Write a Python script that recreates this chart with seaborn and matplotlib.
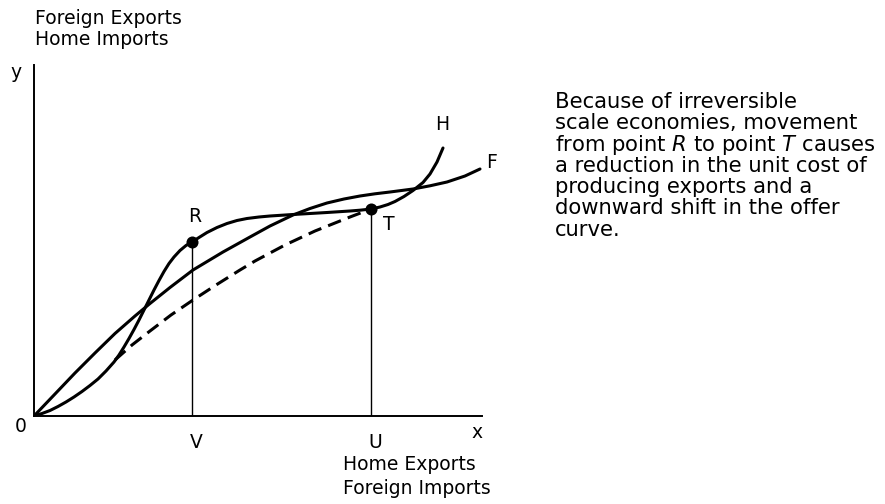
import matplotlib
matplotlib.use("Agg")
import matplotlib.pyplot as plt
import numpy as np
import pandas as pd
import seaborn as sns

# Home offer curve H (S-shaped) (axis units = px from origin)
H_x = [0, 8, 16, 24, 32, 40, 48, 56, 64, 72, 80, 85, 90, 95, 100, 105, 110, 115,
       120, 125, 130, 135, 140, 146, 152, 158, 165, 173, 183, 193, 203, 213, 225,
       236, 259, 276, 293, 316, 326, 337, 346, 354, 361, 370, 379, 389, 396, 403, 409]
H_y = [0, 2.5, 5.5, 9.5, 14, 19, 24.5, 30.5, 37, 45, 54, 61, 69, 77.5, 86.5, 96,
       106, 116, 126, 135.5, 144.5, 152.5, 159, 165.5, 170.5, 174, 178.5, 183.5,
       188.5, 192.5, 195.5, 197.5, 199, 200, 201.5, 202.5, 203.5, 205, 205.8, 207,
       209, 211.5, 214.5, 219.5, 225.5, 233.5, 242, 254, 268]

# Foreign offer curve F
F_x = [0, 21, 41, 61, 81, 101, 116, 136, 159, 189, 216, 236, 259, 276, 293, 310,
       326, 341, 356, 379, 396, 413, 431, 446]
F_y = [0, 22, 43, 63, 82.5, 100, 112.5, 128.5, 146, 164, 179, 190, 201, 207.5, 213,
       217, 220, 222.2, 224, 227, 230.2, 234, 240, 247]

# Shifted (dashed) offer curve
D_x = [81, 98, 116, 137, 159, 182, 206, 221, 236, 251, 266, 281, 296, 316, 337]
D_y = [56, 71, 85, 101, 116, 131, 146, 155, 163, 171, 178, 185, 191, 199, 207]

# Points R and T
pt_names = ["R", "T"]
pt_x = [158, 337]
pt_y = [174, 207]

note_lines = [
    "Because of irreversible",
    "scale economies, movement",
    r"from point $\mathit{R}$ to point $\mathit{T}$ causes",
    "a reduction in the unit cost of",
    "producing exports and a",
    "downward shift in the offer",
    "curve.",
]

sns.set_theme(style="white")
plt.rcParams['font.family'] = ['DejaVu Sans']
plt.rcParams['mathtext.fontset'] = 'dejavusans'
plt.rcParams['text.color'] = 'black'

W, Hh = 885, 504
fig = plt.figure(figsize=(W / 100, Hh / 100), dpi=100)
ox, oy = 34, 416
ax = fig.add_axes([ox / W, (Hh - oy) / Hh, 448 / W, 351 / Hh])

dfH = pd.DataFrame({"x": H_x, "y": H_y})
dfF = pd.DataFrame({"x": F_x, "y": F_y})
dfD = pd.DataFrame({"x": D_x, "y": D_y})
dfP = pd.DataFrame({"x": pt_x, "y": pt_y, "name": pt_names})

lw = 2.2
sns.lineplot(data=dfH, x="x", y="y", sort=False, estimator=None, color="black",
             lw=lw, ax=ax)
sns.lineplot(data=dfF, x="x", y="y", sort=False, estimator=None, color="black",
             lw=lw, ax=ax)
sns.lineplot(data=dfD, x="x", y="y", sort=False, estimator=None, color="black",
             lw=lw, ax=ax, linestyle=(0, (4.5, 2.4)))
for px, py in zip(pt_x, pt_y):
    ax.plot([px, px], [0, py], color="black", lw=1.0)
sns.scatterplot(data=dfP, x="x", y="y", color="black", s=75, ax=ax, zorder=5,
                edgecolor="black", linewidth=0)

ax.set_xlim(0, 448)
ax.set_ylim(0, 351)
ax.set_xticks([])
ax.set_yticks([])
ax.set_xlabel("")
ax.set_ylabel("")
for s in ["top", "right"]:
    ax.spines[s].set_visible(False)
for s in ["left", "bottom"]:
    ax.spines[s].set_color("black")
    ax.spines[s].set_linewidth(1.4)

def T(px, py, s, **kw):
    fig.text(px / W, 1 - py / Hh, s, color="black", **kw)

fs = 13.5
T(35, 18, "Foreign Exports", fontsize=fs, va="center", ha="left")
T(35, 40, "Home Imports", fontsize=fs, va="center", ha="left")
T(16, 73, "y", fontsize=fs, va="center", ha="center")
T(21, 426, "0", fontsize=fs, va="center", ha="center")
T(477, 433, "x", fontsize=fs, va="center", ha="center")
T(196, 442, "V", fontsize=fs, va="center", ha="center")
T(375, 442, "U", fontsize=fs, va="center", ha="center")
T(343, 465, "Home Exports", fontsize=fs, va="center", ha="left")
T(343, 488, "Foreign Imports", fontsize=fs, va="center", ha="left")
T(195, 216, "R", fontsize=fs, va="center", ha="center")
T(389, 225, "T", fontsize=fs, va="center", ha="center")
T(442, 124, "H", fontsize=fs, va="center", ha="center")
T(492, 162, "F", fontsize=fs, va="center", ha="center")

base0, step = 108, 21.3
for i, line in enumerate(note_lines):
    T(555, base0 + i * step, line, fontsize=15.2, va="baseline", ha="left")

fig.savefig("out.png", dpi=100)
